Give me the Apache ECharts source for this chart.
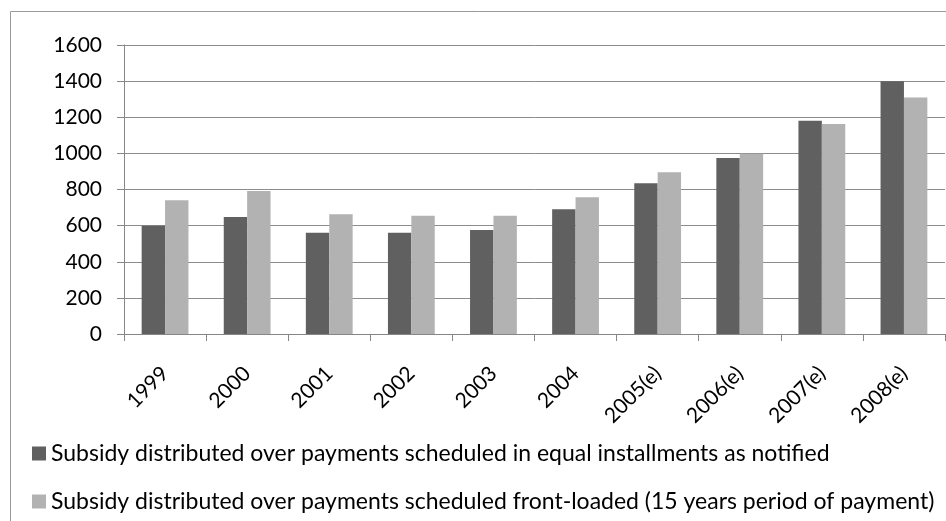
<!DOCTYPE html>
<html>
<head>
<meta charset="utf-8">
<script src="https://cdn.jsdelivr.net/npm/echarts@6/dist/echarts.min.js"></script>
<style>
html,body{margin:0;padding:0;background:#fff;}
#chart{width:946px;height:521px;}
</style>
</head>
<body>
<div id="chart"></div>
<script>
const categories = ['1999','2000','2001','2002','2003','2004','2005(e)','2006(e)','2007(e)','2008(e)'];
const equalInstallments = [600, 648, 560, 560, 576, 690, 835, 975, 1180, 1400];
const frontLoaded = [740, 792, 663, 655, 655, 757, 896, 998, 1163, 1309];
const seriesNames = [
  'Subsidy distributed over payments scheduled in equal installments as notified',
  'Subsidy distributed over payments scheduled front-loaded (15 years period of payment)'
];
const yTicks = {min: 0, max: 1600, interval: 200};

const FONT = 'Lato';
const chart = echarts.init(document.getElementById('chart'), null, {renderer: 'canvas'});
chart.setOption({
  animation: false,
  backgroundColor: '#ffffff',
  textStyle: {fontFamily: FONT},
  graphic: [{
    type: 'rect', z: -1,
    shape: {x: 10.5, y: 11.5, width: 960, height: 540},
    style: {fill: 'none', stroke: '#9a9a9a', lineWidth: 1}
  }],
  grid: {left: 124, right: 1, top: 45, bottom: 187, containLabel: false},
  legend: {
    orient: 'vertical',
    left: 32, top: 442,
    padding: 0,
    itemWidth: 14, itemHeight: 14,
    itemGap: 25,
    icon: 'rect',
    textStyle: {fontFamily: FONT, fontSize: 23, color: '#000', lineHeight: 20},
    data: seriesNames
  },
  xAxis: {
    type: 'category',
    data: categories,
    axisLine: {lineStyle: {color: '#868686', width: 1}},
    axisTick: {show: true, length: 7, alignWithLabel: false, lineStyle: {color: '#868686'}},
    axisLabel: {rotate: 45, margin: 36, fontFamily: FONT, fontSize: 21, color: '#000', interval: 0}
  },
  yAxis: {
    type: 'value',
    min: yTicks.min, max: yTicks.max, interval: yTicks.interval,
    axisLine: {show: true, lineStyle: {color: '#868686', width: 1}},
    axisTick: {show: true, length: 7, lineStyle: {color: '#868686'}},
    axisLabel: {margin: 22, fontFamily: FONT, fontSize: 21, color: '#000', formatter: v => String(v)},
    splitLine: {lineStyle: {color: '#8c8c8c', width: 1}}
  },
  series: [
    {name: seriesNames[0], type: 'bar', data: equalInstallments, barGap: '0%', barCategoryGap: '43%',
     itemStyle: {color: '#606060'}},
    {name: seriesNames[1], type: 'bar', data: frontLoaded, barGap: '0%', barCategoryGap: '43%',
     itemStyle: {color: '#b2b2b2'}}
  ]
});
</script>
</body>
</html>
